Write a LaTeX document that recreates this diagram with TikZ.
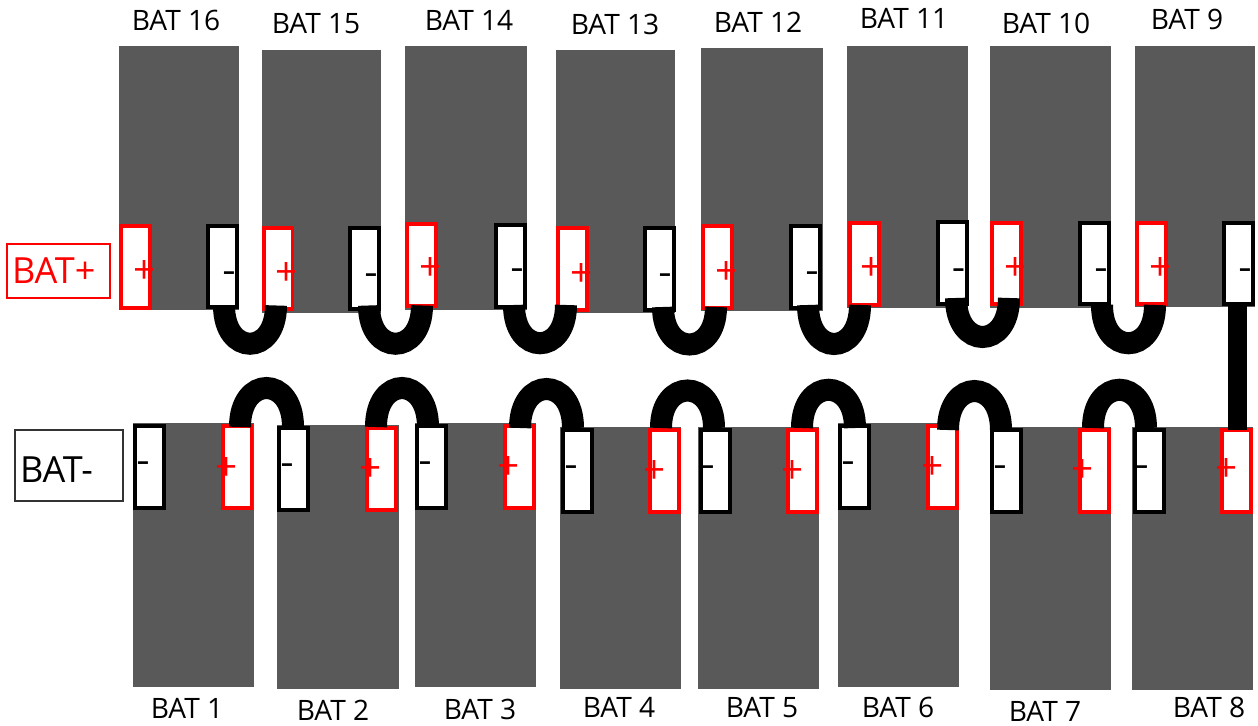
\documentclass[tikz,border=0pt]{standalone}
\usepackage{fontspec}
\setmainfont{Open Sans}
\definecolor{cellgray}{HTML}{595959}
\tikzset{
  cell/.style={fill=cellgray},
  plusterm/.style={draw=red,fill=white,line width=.08cm,minimum width=.58cm,minimum height=1.64cm,inner sep=0pt,outer sep=0pt},
  minusterm/.style={plusterm,draw=black},
  plussign/.style={text=red,inner sep=0pt,yshift=-.06cm,font=\fontsize{22}{22}\selectfont},
  minussign/.style={text=black,inner sep=0pt,yshift=-.08cm,font=\fontsize{13.5}{13.5}\selectfont\bfseries},
  batlabel/.style={inner sep=0pt,font=\fontsize{16}{18}\selectfont},
  jumper/.style={draw=black,line width=.44cm},
  tiebar/.style={draw=black,line width=.38cm},
  polebox/.style={draw,line width=.03cm,inner xsep=.1cm,inner ysep=0pt,align=left,font=\fontsize{20.5}{24}\selectfont}
}
\begin{document}
\begin{tikzpicture}[x=.02cm,y=-.02cm]
      \useasboundingbox (0,0) rectangle (1258,726);
      % top row cells
      \fill [cell] (119,46) rectangle (239,310);
      \fill [cell] (262,50) rectangle (381,313);
      \fill [cell] (405,46) rectangle (527,310);
      \fill [cell] (556,50) rectangle (675,313);
      \fill [cell] (701,48) rectangle (823,311);
      \fill [cell] (847,46) rectangle (968,308);
      \fill [cell] (990,46) rectangle (1111,308);
      \fill [cell] (1135,46) rectangle (1255,307);
      % bottom row cells
      \fill [cell] (133,423) rectangle (254,687);
      \fill [cell] (277,425) rectangle (399,689);
      \fill [cell] (415,423) rectangle (536,687);
      \fill [cell] (560,427) rectangle (681,689);
      \fill [cell] (698,427) rectangle (819,689);
      \fill [cell] (838,423) rectangle (959,687);
      \fill [cell] (990,427) rectangle (1111,690);
      \fill [cell] (1132,427) rectangle (1253,690);
      % top row terminals
      \node [plusterm] (p16) at (135.5,267) {};
      \node [minusterm] (m16) at (222.5,266.5) {};
      \node [plusterm] (p15) at (278,268.5) {};
      \node [minusterm] (m15) at (364.5,268.5) {};
      \node [plusterm] (p14) at (421.5,265) {};
      \node [minusterm] (m14) at (510.5,266) {};
      \node [plusterm] (p13) at (572,269) {};
      \node [minusterm] (m13) at (659,269) {};
      \node [plusterm] (p12) at (717.5,267) {};
      \node [minusterm] (m12) at (805.5,267) {};
      \node [plusterm] (p11) at (864,264) {};
      \node [minusterm] (m11) at (952,263) {};
      \node [plusterm] (p10) at (1006,263.5) {};
      \node [minusterm] (m10) at (1094.5,263.5) {};
      \node [plusterm] (p9) at (1151.5,263.5) {};
      \node [minusterm] (m9) at (1238.5,263.5) {};
      % bottom row terminals
      \node [minusterm] (m1) at (149.5,467) {};
      \node [plusterm] (p1) at (237,467) {};
      \node [minusterm] (m2) at (293.5,469) {};
      \node [plusterm] (p2) at (381,469) {};
      \node [minusterm] (m3) at (431,467) {};
      \node [plusterm] (p3) at (519,467) {};
      \node [minusterm] (m4) at (577.5,471) {};
      \node [plusterm] (p4) at (664.5,471) {};
      \node [minusterm] (m5) at (715,471) {};
      \node [plusterm] (p5) at (802.5,471) {};
      \node [minusterm] (m6) at (854.5,467) {};
      \node [plusterm] (p6) at (942.5,467) {};
      \node [minusterm] (m7) at (1006.5,471) {};
      \node [plusterm] (p7) at (1094.5,471) {};
      \node [minusterm] (m8) at (1149,471) {};
      \node [plusterm] (p8) at (1236.5,471) {};
      % signs
      \node [plussign] (sp16) at (145,269) {+};
      \node [minussign] (sm16) at (229,272) {–};
      \node [plussign] (sp15) at (287,271) {+};
      \node [minussign] (sm15) at (371,274) {–};
      \node [plussign] (sp14) at (431,266) {+};
      \node [minussign] (sm14) at (517,269) {–};
      \node [plussign] (sp13) at (582,272) {+};
      \node [minussign] (sm13) at (665,274) {–};
      \node [plussign] (sp12) at (727,270) {+};
      \node [minussign] (sm12) at (812,272) {–};
      \node [plussign] (sp11) at (872,266) {+};
      \node [minussign] (sm11) at (958.5,269) {–};
      \node [plussign] (sp10) at (1016,266) {+};
      \node [minussign] (sm10) at (1101,269) {–};
      \node [plussign] (sp9) at (1161,266) {+};
      \node [minussign] (sm9) at (1245,269) {–};
      \node [minussign] (sm1) at (143,462) {–};
      \node [plussign] (sp1) at (227,466) {+};
      \node [minussign] (sm2) at (287,464) {–};
      \node [plussign] (sp2) at (371,467) {+};
      \node [minussign] (sm3) at (425,462) {–};
      \node [plussign] (sp3) at (509,465) {+};
      \node [minussign] (sm4) at (571,466) {–};
      \node [plussign] (sp4) at (655,469) {+};
      \node [minussign] (sm5) at (708,466) {–};
      \node [plussign] (sp5) at (793,469) {+};
      \node [minussign] (sm6) at (848,462) {–};
      \node [plussign] (sp6) at (933,465) {+};
      \node [minussign] (sm7) at (1000,466) {–};
      \node [plussign] (sp7) at (1083,468) {+};
      \node [minussign] (sm8) at (1142,466) {–};
      \node [plussign] (sp8) at (1227,467) {+};
      % top row jumpers
      \draw [jumper] ([shift={(1.5,-2)}]m16.south) .. controls +(0,51) and +(0,51) .. ([shift={(-2,-4)}]p15.south);
      \draw [jumper] ([shift={(4.5,-4)}]m15.south) .. controls +(0,51) and +(0,51) .. ([shift={(.5,-.5)}]p14.south);
      \draw [jumper] ([shift={(3.5,-2)}]m14.south) .. controls +(0,51) and +(0,51) .. ([shift={(-6,-5)}]p13.south);
      \draw [jumper] ([shift={(4,-3)}]m13.south) .. controls +(0,50) and +(0,50) .. ([shift={(-1.5,-1)}]p12.south);
      \draw [jumper] ([shift={(2.5,-3)}]m12.south) .. controls +(0,52) and +(0,52) .. ([shift={(-4,0)}]p11.south);
      \draw [jumper] ([shift={(4,-6)}]m11.south) .. controls +(0,52) and +(0,52) .. ([shift={(3,-6.5)}]p10.south);
      \draw [jumper] ([shift={(7.5,.5)}]m10.south) .. controls +(0,51) and +(0,51) .. ([shift={(3.5,.5)}]p9.south);
      % bottom row jumpers
      \draw [jumper] ([shift={(3,1)}]p1.north) .. controls +(0,-52) and +(0,-52) .. ([shift={(-.5,-1)}]m2.north);
      \draw [jumper] ([shift={(-5,-1)}]p2.north) .. controls +(0,-52) and +(0,-52) .. ([shift={(-3,1)}]m3.north);
      \draw [jumper] ([shift={(1,2)}]p3.north) .. controls +(0,-52) and +(0,-52) .. ([shift={(-4.5,-2)}]m4.north);
      \draw [jumper] ([shift={(-3.5,-2)}]p4.north) .. controls +(0,-50) and +(0,-50) .. ([shift={(-1,-2)}]m5.north);
      \draw [jumper] ([shift={(-.5,-2)}]p5.north) .. controls +(0,-51) and +(0,-51) .. ([shift={(.5,2)}]m6.north);
      \draw [jumper] ([shift={(5.5,4)}]p6.north) .. controls +(0,-52) and +(0,-52) .. ([shift={(-5.5,0)}]m7.north);
      \draw [jumper] ([shift={(-1.5,-2)}]p7.north) .. controls +(0,-51) and +(0,-51) .. ([shift={(-3,-2)}]m8.north);
      % link between the rows
      \draw [tiebar] ([xshift=-.02cm]m9.south) -- ([xshift=.02cm]p8.north);
      % labels
      \node [batlabel] (l16) at (176,20) {BAT 16};
      \node [batlabel] (l15) at (316,24) {BAT 15};
      \node [batlabel] (l14) at (469,20) {BAT 14};
      \node [batlabel] (l13) at (615,24) {BAT 13};
      \node [batlabel] (l12) at (758,22) {BAT 12};
      \node [batlabel] (l11) at (904,18) {BAT 11};
      \node [batlabel] (l10) at (1046,23) {BAT 10};
      \node [batlabel] (l9) at (1187,19) {BAT 9};
      \node [batlabel] (l1) at (187,708) {BAT 1};
      \node [batlabel] (l2) at (333,710) {BAT 2};
      \node [batlabel] (l3) at (480,709) {BAT 3};
      \node [batlabel] (l4) at (619,707) {BAT 4};
      \node [batlabel] (l5) at (762,708) {BAT 5};
      \node [batlabel] (l6) at (898,707) {BAT 6};
      \node [batlabel] (l7) at (1045,711) {BAT 7};
      \node [batlabel] (l8) at (1209,707) {BAT 8};
      % pack poles
      \node [polebox,draw=red,text=red,text width=1.86cm,minimum height=1.08cm,text height=.5cm,text depth=0pt] (batplus) at (58.5,271) {BAT+};
      \node [polebox,draw=black!80,text=black,text width=1.96cm,minimum height=1.42cm,text height=.8cm,text depth=.1cm] (batminus) at (69,465.5) {BAT-};
    \end{tikzpicture}
\end{document}
